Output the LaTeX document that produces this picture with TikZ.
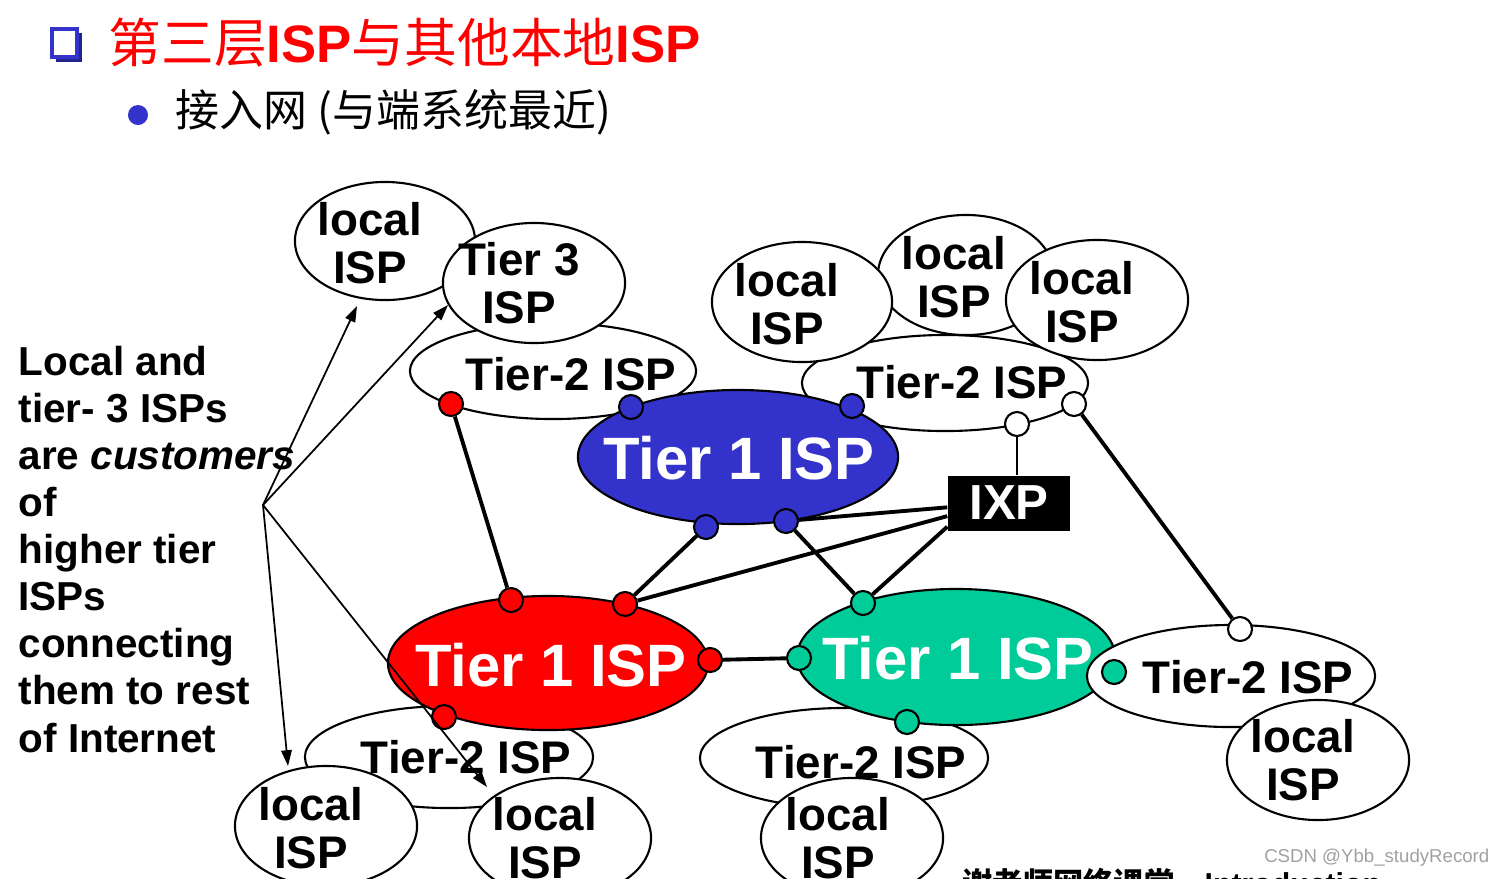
\documentclass[tikz,border=0pt]{standalone}
\usepackage{fontspec}
\setmainfont{Liberation Sans}
\newfontfamily\cjk{Noto Sans CJK SC}
\usepackage{tikz}
\usetikzlibrary{arrows.meta, shapes.geometric}
\usepackage{xcolor}
\definecolor{tieroneblue}{RGB}{51, 51, 204}
\definecolor{tieronered}{RGB}{255, 0, 0}
\definecolor{tieronegreen}{RGB}{0, 204, 153}
\definecolor{markgray}{RGB}{160, 160, 160}

\tikzset{
  ispell/.style={ellipse, draw, fill=white, line width=0.6pt, inner sep=0pt},
  isplabel/.style={font=\fontsize{13}{13.8}\selectfont\bfseries, align=center, inner sep=0pt},
  tierone/.style={font=\fontsize{17}{18}\selectfont\bfseries, text=white, inner sep=0pt},
  port/.style={circle, draw, line width=0.6pt, minimum size=0.24cm, inner sep=0pt},
  link/.style={line width=1.1pt},
  pointer/.style={line width=0.5pt, -{Triangle[length=4.5pt, width=3pt]}},
}

\begin{document}
\begin{tikzpicture}[x=0.01cm, y=-0.01cm]

  \useasboundingbox (0,0) rectangle (1504,878);

  % Heading lines
  \fill[tieroneblue!70!black] (56,33) rectangle (82,62);
  \draw[tieroneblue, fill=white, line width=1.2pt] (52,29) rectangle (77,57);
  \node[anchor=west, text=tieronered, font=\fontsize{15}{16}\selectfont, inner sep=0pt] (title) at (108,43)
    {{\cjk 第三层}\textbf{ISP}{\cjk 与其他本地}\textbf{ISP}};
  \node[circle, fill=tieroneblue, minimum size=0.2cm, inner sep=0pt] (bullet) at (138,115) {};
  \node[anchor=west, font=\cjk\fontsize{12.5}{14}\selectfont, inner sep=0pt] (subtitle) at (175,112)
    {接入网 (与端系统最近)};

  % Upper left group
  \node[ispell, minimum width=2.86cm, minimum height=0.96cm] (t2a) at (553,371) {};
  \node[ispell, minimum width=1.8cm, minimum height=1.18cm] (loca) at (385,241) {};
  \node[ispell, minimum width=1.82cm, minimum height=1.2cm] (tierthree) at (534,283) {};

  % Upper right group
  \node[ispell, minimum width=2.86cm, minimum height=0.96cm] (t2b) at (945,383) {};
  \node[ispell, minimum width=1.76cm, minimum height=1.2cm] (locc) at (966,275) {};
  \node[ispell, minimum width=1.8cm, minimum height=1.2cm] (locb) at (802,302) {};
  \node[ispell, minimum width=1.82cm, minimum height=1.2cm] (locd) at (1097,300) {};

  % Tier 1 (blue)
  \node[ellipse, draw, fill=tieroneblue, line width=0.6pt, minimum width=3.2cm, minimum height=1.34cm] (t1blue) at (738,457) {};

  % Lower left group
  \node[ispell, minimum width=2.88cm, minimum height=1.02cm] (t2c) at (449,757) {};
  \node[ellipse, draw, fill=tieronered, line width=0.6pt, minimum width=3.2cm, minimum height=1.34cm] (t1red) at (548,663) {};
  \node[ispell, minimum width=1.82cm, minimum height=1.2cm] (loce) at (326,826) {};
  \node[ispell, minimum width=1.82cm, minimum height=1.2cm] (locf) at (560,838) {};

  % Lower right group
  \node[ispell, minimum width=2.88cm, minimum height=1cm] (t2d) at (844,758) {};
  \node[ellipse, draw, fill=tieronegreen, line width=0.6pt, minimum width=3.18cm, minimum height=1.36cm] (t1green) at (956,657) {};
  \node[ispell, minimum width=1.82cm, minimum height=1.2cm] (locg) at (852,838) {};
  \node[ispell, minimum width=2.88cm, minimum height=1.02cm] (t2e) at (1231,676) {};
  \node[ispell, minimum width=1.82cm, minimum height=1.2cm] (loch) at (1318,760) {};

  % labels
  \node[isplabel] (lbla) at (370,243) {local\\ISP};
  \node[isplabel] (lbltier3) at (519,283) {Tier 3\\ISP};
  \node[isplabel] (lblb) at (787,304) {local\\ISP};
  \node[isplabel] (lblc) at (954,277) {local\\ISP};
  \node[isplabel] (lbld) at (1082,302) {local\\ISP};
  \node[isplabel] (lble) at (311,828) {local\\ISP};
  \node[isplabel] (lblf) at (545,838) {local\\ISP};
  \node[isplabel] (lblg) at (838,838) {local\\ISP};
  \node[isplabel] (lblh) at (1303,760) {local\\ISP};
  \node[isplabel] (lblt2a) at (571,374) {Tier-2 ISP};
  \node[isplabel] (lblt2b) at (962,382) {Tier-2 ISP};
  \node[isplabel] (lblt2c) at (466,757) {Tier-2 ISP};
  \node[isplabel] (lblt2d) at (861,762) {Tier-2 ISP};
  \node[isplabel] (lblt2e) at (1248,677) {Tier-2 ISP};
  \node[tierone] (lblblue) at (739,458) {Tier 1 ISP};
  \node[tierone] (lblred) at (551,665) {Tier 1 ISP};
  \node[tierone] (lblgreen) at (958,658) {Tier 1 ISP};

  % IXP
  \node[fill=black, text=white, font=\fontsize{14}{15}\selectfont\bfseries,
        minimum width=1.22cm, minimum height=0.55cm, inner sep=0pt] (ixp) at (1009,503) {IXP};

  % ports
  \node[port, fill=tieroneblue] (b1) at (631,407) {};
  \node[port, fill=tieroneblue] (b2) at (852,406) {};
  \node[port, fill=tieroneblue] (b3) at (706,527) {};
  \node[port, fill=tieroneblue] (b4) at (786,521) {};
  \node[port, fill=tieronered] (r1) at (451,404) {};
  \node[port, fill=tieronered] (r2) at (511,600) {};
  \node[port, fill=tieronered] (r3) at (625,604) {};
  \node[port, fill=tieronered] (r4) at (710,660) {};
  \node[port, fill=tieronered] (r5) at (444,717) {};
  \node[port, fill=tieronegreen] (g1) at (863,603) {};
  \node[port, fill=tieronegreen] (g2) at (799,658) {};
  \node[port, fill=tieronegreen] (g3) at (1114,672) {};
  \node[port, fill=tieronegreen] (g4) at (907,722) {};
  \node[port, fill=white] (w1) at (1017,424) {};
  \node[port, fill=white] (w2) at (1074,404) {};
  \node[port, fill=white] (w3) at (1240,629) {};

  % links between ISPs
  \draw[link] (r1) -- (r2);
  \draw[link] (b3) -- (r3);
  \draw[link] (b4) -- (g1);
  \draw[link] (b4) -- (ixp.184);
  \draw[link] (r3) -- (ixp.192);
  \draw[link] (g1) -- (ixp.201);
  \draw[link] (r4) -- (g2);
  \draw[line width=0.6pt] (w1) -- (w1 |- ixp.north);
  \draw[link] (w2) -- (w3);

  % customers note
  \node[anchor=north west, align=left, inner sep=0pt, font=\fontsize{11.5}{13.4}\selectfont\bfseries] (note) at (18,345)
    {Local and\\tier- 3 ISPs\\are \textit{customers}\\of\\higher tier\\ISPs\\connecting\\them to rest\\of Internet};
  \coordinate (src) at (263,505);
  \coordinate (tipa) at (357,306);
  \coordinate (tipb) at (448,305);
  \coordinate (tipc) at (288,766);
  \coordinate (tipd) at (487,787);
  \foreach \t in {tipa, tipb, tipc, tipd}
    \draw[pointer] (src) -- (\t);

  % footer
  \node[anchor=east, text=markgray, font=\fontsize{5.3}{6}\selectfont, inner sep=0pt] (mark) at (1490,858) {CSDN @Ybb\_studyRecord};
  \node[anchor=base west, font=\fontsize{8.6}{9}\selectfont\bfseries, inner sep=0pt] (footer) at (962,894)
    {{\cjk 谢老师网络课堂}\quad Introduction};

\end{tikzpicture}
\end{document}
